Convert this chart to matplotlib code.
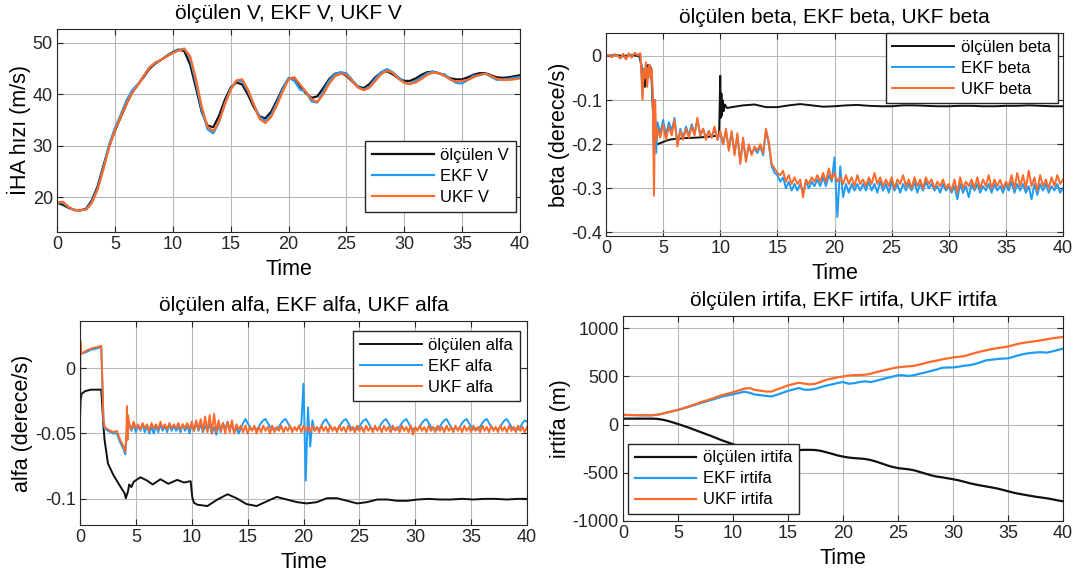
import numpy as np
import matplotlib
matplotlib.use("Agg")
import matplotlib.pyplot as plt

plt.rcParams['font.family'] = ['Liberation Sans', 'DejaVu Sans']
plt.rcParams['axes.unicode_minus'] = False

# ---------------- V (hiz) ----------------
t_v = np.linspace(0, 40, 81)
v_olculen = [18.9, 18.5, 17.9, 17.5, 17.4, 17.7, 19.3, 22.0, 26.0, 29.9,
             32.9, 35.5, 38.1, 40.4, 41.9, 43.4, 45.0, 46.0, 46.7, 47.5,
             48.2, 48.7, 48.4, 45.8, 41.3, 36.6, 33.9, 33.6, 35.8, 38.9,
             41.3, 42.3, 41.9, 39.9, 37.5, 35.7, 35.3, 36.6, 38.8, 41.2,
             43.0, 43.2, 41.6, 40.2, 39.3, 39.6, 41.2, 42.9, 44.0, 44.2,
             43.6, 42.5, 41.5, 41.2, 42.0, 43.3, 44.2, 44.5, 43.9, 43.1,
             42.6, 42.6, 43.1, 43.8, 44.3, 44.4, 44.1, 43.6, 43.1, 42.9,
             42.9, 43.3, 43.8, 44.1, 44.1, 43.7, 43.3, 43.2, 43.3, 43.5,
             43.7]
v_ekf = [19.0, 18.9, 18.0, 17.5, 17.4, 17.6, 19.0, 21.6, 25.6, 30.2,
         33.4, 36.0, 38.8, 40.8, 42.0, 43.6, 45.3, 46.1, 46.7, 47.4,
         48.1, 48.6, 48.9, 47.0, 42.3, 37.0, 33.2, 32.4, 34.6, 38.2,
         41.0, 42.6, 42.5, 40.6, 38.0, 35.6, 34.8, 36.0, 38.3, 41.0,
         43.2, 42.6, 40.9, 40.5, 38.6, 38.4, 40.5, 42.6, 43.9, 44.3,
         44.1, 42.8, 41.4, 40.9, 41.5, 43.0, 44.3, 44.9, 44.3, 43.3,
         42.3, 42.0, 42.6, 43.3, 44.1, 44.4, 44.0, 43.9, 42.9, 42.2,
         42.1, 42.8, 43.6, 43.7, 44.0, 43.4, 42.8, 42.9, 43.0, 43.2,
         43.4]
v_ukf = [18.9, 19.1, 18.1, 17.4, 17.5, 17.5, 18.8, 21.4, 25.3, 29.6,
         33.0, 35.6, 38.2, 40.3, 41.8, 43.6, 45.2, 46.2, 46.7, 47.4,
         48.0, 48.5, 48.8, 47.4, 43.0, 37.6, 33.7, 32.8, 34.7, 38.0,
         40.9, 42.7, 42.9, 40.9, 38.0, 35.2, 34.4, 35.6, 37.9, 40.5,
         42.9, 43.3, 41.9, 40.5, 39.0, 38.5, 40.0, 42.0, 43.5, 44.0,
         43.8, 42.6, 41.3, 40.8, 41.3, 42.6, 43.9, 44.6, 44.2, 43.0,
         42.2, 42.0, 42.3, 43.0, 43.8, 44.2, 44.1, 43.6, 42.8, 42.5,
         42.6, 42.8, 43.3, 43.8, 44.0, 43.6, 43.0, 42.8, 42.8, 42.9,
         43.1]

# ---------------- beta ----------------
t_beta_olc = [0, 0.5, 1, 1.5, 2, 2.5, 2.9, 3.1, 3.2, 3.3,
              3.4, 3.5, 3.6, 3.7, 3.8, 3.9, 4.0, 4.1, 4.2, 4.3,
              4.5, 5, 5.5, 6, 7, 8, 9, 9.9,
              10.0, 10.05, 10.1, 10.15, 10.2, 10.3, 10.4, 10.6,
              11, 12, 13, 14, 15, 16, 17, 18, 19, 20,
              21, 22, 23, 24, 25, 26, 27, 28, 29, 30,
              31, 32, 33, 34, 35, 36, 37, 38, 39, 40]
beta_olculen = [0.0, 0.001, 0.002, -0.001, 0.002, 0.001, 0.0, -0.02, -0.06, -0.03,
                -0.07, -0.02, -0.05, -0.02, -0.03, -0.025, -0.06, -0.12, -0.18, -0.2,
                -0.2, -0.195, -0.19, -0.188, -0.186, -0.185, -0.183, -0.18,
                -0.045, -0.14, -0.085, -0.135, -0.10, -0.125, -0.11, -0.118,
                -0.116, -0.112, -0.11, -0.116, -0.116, -0.112, -0.109, -0.112, -0.115, -0.114,
                -0.112, -0.111, -0.113, -0.114, -0.114, -0.112, -0.112, -0.113, -0.114, -0.114,
                -0.113, -0.113, -0.114, -0.114, -0.113, -0.113, -0.112, -0.113, -0.114, -0.114]

t_beta_early = [0, 0.25, 0.5, 0.75, 1.0, 1.25, 1.5, 1.75, 2.0, 2.25,
                2.5, 2.75, 3.0, 3.1, 3.2, 3.3, 3.4, 3.5, 3.6, 3.7,
                3.8, 3.9, 4.0, 4.1, 4.15, 4.2, 4.25, 4.3, 4.4]
t_beta_f = np.concatenate([t_beta_early, np.linspace(4.5, 40, 143)])
beta_ukf = [0.0, 0.002, -0.003, 0.004, 0.001, -0.006, 0.005, -0.008, 0.006, -0.004,
            0.007, 0.002, 0.006, -0.04, -0.1, -0.03, -0.05, -0.015, -0.07, -0.03,
            -0.02, -0.05, -0.03, -0.1, -0.2, -0.317, -0.2, -0.1, -0.19,
            -0.165, -0.185, -0.155, -0.19, -0.16, -0.18, -0.145, -0.205,
            -0.17, -0.19, -0.165, -0.185, -0.16, -0.18, -0.14, -0.18,
            -0.165, -0.19, -0.17, -0.185, -0.16, -0.19, -0.17, -0.2,
            -0.165, -0.215, -0.17, -0.225, -0.175, -0.245, -0.185, -0.24,
            -0.2, -0.225, -0.205, -0.215, -0.2, -0.22, -0.165, -0.195,
            -0.245, -0.255, -0.265, -0.27, -0.26, -0.285, -0.27, -0.29,
            -0.275, -0.29, -0.28, -0.32, -0.28, -0.29, -0.275, -0.285,
            -0.27, -0.285, -0.265, -0.285, -0.255, -0.28, -0.265, -0.285,
            -0.275, -0.29, -0.27, -0.29, -0.275, -0.295, -0.27, -0.29,
            -0.28, -0.295, -0.275, -0.29, -0.265, -0.29, -0.275, -0.295,
            -0.28, -0.295, -0.275, -0.3, -0.28, -0.29, -0.27, -0.295,
            -0.28, -0.3, -0.275, -0.295, -0.28, -0.3, -0.275, -0.29,
            -0.28, -0.3, -0.285, -0.295, -0.28, -0.3, -0.29, -0.305,
            -0.28, -0.31, -0.275, -0.3, -0.285, -0.295, -0.28, -0.3,
            -0.275, -0.3, -0.28, -0.295, -0.27, -0.3, -0.28, -0.295,
            -0.28, -0.3, -0.285, -0.295, -0.27, -0.3, -0.265, -0.295,
            -0.27, -0.3, -0.26, -0.295, -0.275, -0.305, -0.27, -0.295,
            -0.28, -0.3, -0.275, -0.295, -0.27, -0.29, -0.28]
beta_ekf = [0.0, 0.002, -0.002, 0.003, 0.001, -0.005, 0.004, -0.007, 0.005, -0.003,
            0.006, 0.002, 0.005, -0.035, -0.09, -0.03, -0.05, -0.015, -0.065, -0.03,
            -0.02, -0.05, -0.03, -0.1, -0.18, -0.23, -0.1, -0.14, -0.22,
            -0.15, -0.175, -0.145, -0.18, -0.15, -0.17, -0.14, -0.2,
            -0.165, -0.185, -0.16, -0.18, -0.155, -0.175, -0.145, -0.18,
            -0.165, -0.185, -0.17, -0.185, -0.165, -0.19, -0.175, -0.2,
            -0.17, -0.21, -0.175, -0.22, -0.18, -0.24, -0.19, -0.235,
            -0.205, -0.22, -0.21, -0.22, -0.205, -0.225, -0.17, -0.2,
            -0.25, -0.265, -0.27, -0.285, -0.275, -0.3, -0.285, -0.305,
            -0.29, -0.305, -0.29, -0.31, -0.285, -0.3, -0.285, -0.295,
            -0.28, -0.295, -0.275, -0.295, -0.27, -0.285, -0.23, -0.365,
            -0.25, -0.32, -0.29, -0.31, -0.29, -0.305, -0.29, -0.305,
            -0.29, -0.305, -0.285, -0.305, -0.29, -0.31, -0.285, -0.305,
            -0.29, -0.31, -0.285, -0.305, -0.29, -0.31, -0.29, -0.305,
            -0.29, -0.305, -0.285, -0.31, -0.29, -0.305, -0.285, -0.3,
            -0.29, -0.305, -0.295, -0.31, -0.29, -0.305, -0.295, -0.31,
            -0.295, -0.325, -0.29, -0.31, -0.295, -0.32, -0.29, -0.305,
            -0.29, -0.31, -0.295, -0.305, -0.29, -0.31, -0.29, -0.305,
            -0.295, -0.31, -0.29, -0.305, -0.285, -0.31, -0.29, -0.305,
            -0.29, -0.31, -0.295, -0.325, -0.29, -0.315, -0.29, -0.305,
            -0.29, -0.31, -0.295, -0.305, -0.29, -0.31, -0.3]

# ---------------- alfa ----------------
t_alfa_olc = [0, 0.05, 0.15, 0.5, 1.0, 1.5, 1.9, 2.0, 2.1, 2.2,
              2.5, 3.0, 3.5, 4.0, 4.1, 4.3, 4.4, 4.6, 4.8, 5.4,
              6.0, 6.5, 7.2, 7.9, 8.7, 9.3, 9.9, 10.05, 10.2, 10.5,
              11.4, 12.3, 13.2, 14.0, 14.9, 15.8, 16.7, 17.6, 18.5, 19.4,
              20.3, 21.2, 22.1, 23.0, 23.9, 24.8, 25.7, 26.6, 27.5, 28.4,
              29.3, 30.2, 31.2, 32.2, 33.2, 34.2, 35.2, 36.2, 37.2, 38.2,
              39.2, 40]
alfa_olculen = [-0.040, -0.025, -0.0195, -0.0175, -0.0165, -0.0165, -0.0165, -0.03, -0.045, -0.055,
                -0.073, -0.082, -0.089, -0.096, -0.0995, -0.094, -0.089, -0.091, -0.087, -0.0835,
                -0.086, -0.089, -0.085, -0.0885, -0.0855, -0.0875, -0.0865, -0.099, -0.103, -0.1045,
                -0.1055, -0.1005, -0.0965, -0.0995, -0.104, -0.1055, -0.102, -0.0985, -0.1005, -0.1025,
                -0.1035, -0.1025, -0.0995, -0.0995, -0.1015, -0.1035, -0.1025, -0.1005, -0.1005, -0.1015,
                -0.1015, -0.1005, -0.1, -0.1005, -0.1005, -0.1, -0.1005, -0.1, -0.1, -0.1005,
                -0.1, -0.1]

t_alfa_early = [0, 0.03, 0.1, 0.5, 1.0, 1.5, 1.9, 2.0, 2.1, 2.2,
                2.5, 3.0, 3.3, 3.6, 3.9, 4.05, 4.15, 4.2, 4.25, 4.3]
t_alfa_f = np.concatenate([t_alfa_early, np.linspace(4.4, 40, 179)])
alfa_ukf = [-0.04, 0.021, 0.011, 0.013, 0.015, 0.016, 0.017, -0.01, -0.04, -0.045,
            -0.047, -0.049, -0.048, -0.055, -0.06, -0.064, -0.05, -0.029, -0.055, -0.036,
            -0.042, -0.047, -0.041, -0.046, -0.043, -0.047, -0.042, -0.046, -0.043, -0.048,
            -0.042, -0.046, -0.043, -0.047, -0.041, -0.046, -0.043, -0.047, -0.042, -0.046,
            -0.043, -0.046, -0.042, -0.047, -0.043, -0.046, -0.042, -0.047, -0.041, -0.048,
            -0.040, -0.047, -0.039, -0.048, -0.037, -0.049, -0.036, -0.050, -0.035, -0.049,
            -0.040, -0.048, -0.042, -0.050, -0.041, -0.049, -0.040, -0.050, -0.043, -0.047,
            -0.044, -0.049, -0.044, -0.050, -0.045, -0.048, -0.044, -0.050, -0.045, -0.049,
            -0.044, -0.048, -0.045, -0.050, -0.044, -0.049, -0.045, -0.048, -0.044, -0.049,
            -0.045, -0.048, -0.044, -0.049, -0.045, -0.048, -0.044, -0.049, -0.044, -0.048,
            -0.045, -0.049, -0.044, -0.048, -0.045, -0.049, -0.044, -0.048, -0.045, -0.049,
            -0.044, -0.048, -0.045, -0.049, -0.044, -0.048, -0.045, -0.049, -0.044, -0.048,
            -0.045, -0.049, -0.044, -0.048, -0.045, -0.049, -0.044, -0.048, -0.045, -0.049,
            -0.044, -0.048, -0.045, -0.049, -0.044, -0.048, -0.045, -0.049, -0.044, -0.048,
            -0.045, -0.049, -0.044, -0.048, -0.045, -0.049, -0.044, -0.051, -0.045, -0.048,
            -0.044, -0.048, -0.045, -0.049, -0.044, -0.048, -0.045, -0.049, -0.044, -0.048,
            -0.045, -0.049, -0.044, -0.048, -0.045, -0.049, -0.044, -0.048, -0.045, -0.049,
            -0.044, -0.048, -0.045, -0.049, -0.044, -0.048, -0.045, -0.049, -0.044, -0.048,
            -0.045, -0.049, -0.044, -0.048, -0.045, -0.049, -0.044, -0.048, -0.045, -0.049,
            -0.044, -0.048, -0.045, -0.049, -0.044, -0.048, -0.045, -0.049, -0.045]
alfa_ekf = [-0.04, 0.015, 0.011, 0.012, 0.014, 0.015, 0.016, -0.01, -0.04, -0.046,
            -0.048, -0.05, -0.05, -0.057, -0.062, -0.066, -0.055, -0.045, -0.052, -0.045,
            -0.044, -0.048, -0.043, -0.049, -0.044, -0.048, -0.043, -0.049, -0.044, -0.050,
            -0.045, -0.050, -0.044, -0.049, -0.043, -0.048, -0.044, -0.049, -0.043, -0.048,
            -0.044, -0.048, -0.045, -0.049, -0.043, -0.048, -0.044, -0.050, -0.043, -0.048,
            -0.042, -0.048, -0.043, -0.049, -0.044, -0.048, -0.043, -0.050, -0.045, -0.051,
            -0.044, -0.049, -0.042, -0.047, -0.041, -0.046, -0.044, -0.049, -0.046, -0.050,
            -0.046, -0.042, -0.039, -0.042, -0.045, -0.047, -0.046, -0.047, -0.045, -0.042,
            -0.040, -0.039, -0.042, -0.045, -0.047, -0.046, -0.047, -0.045, -0.042, -0.040,
            -0.039, -0.042, -0.045, -0.047, -0.046, -0.047, -0.045, -0.043, -0.012, -0.086,
            -0.030, -0.060, -0.040, -0.048, -0.046, -0.047, -0.044, -0.041, -0.039, -0.042,
            -0.045, -0.047, -0.046, -0.047, -0.045, -0.042, -0.040, -0.039, -0.042, -0.045,
            -0.047, -0.046, -0.047, -0.045, -0.042, -0.040, -0.039, -0.042, -0.045, -0.047,
            -0.046, -0.047, -0.045, -0.042, -0.040, -0.039, -0.042, -0.045, -0.047, -0.046,
            -0.047, -0.045, -0.042, -0.040, -0.039, -0.042, -0.045, -0.047, -0.046, -0.047,
            -0.045, -0.042, -0.040, -0.039, -0.042, -0.045, -0.047, -0.046, -0.047, -0.045,
            -0.042, -0.040, -0.039, -0.042, -0.045, -0.047, -0.046, -0.047, -0.045, -0.042,
            -0.040, -0.039, -0.042, -0.045, -0.047, -0.046, -0.047, -0.045, -0.042, -0.040,
            -0.039, -0.042, -0.045, -0.047, -0.046, -0.047, -0.045, -0.042, -0.040, -0.039,
            -0.042, -0.045, -0.047, -0.046, -0.047, -0.045, -0.042, -0.040, -0.041]

# ---------------- irtifa ----------------
t_irt = np.linspace(0, 40, 81)
irt_olculen = [61, 61, 61, 61, 61, 61, 60, 52, 40, 23,
               5, -14, -34, -55, -77, -98, -119, -142, -165, -185,
               -205, -225, -242, -255, -263, -268, -270, -271, -272, -271,
               -270, -268, -266, -264, -264, -266, -275, -290, -305, -322,
               -334, -344, -350, -354, -359, -370, -386, -405, -425, -442,
               -454, -461, -467, -478, -495, -512, -529, -542, -550, -560,
               -570, -581, -596, -611, -624, -635, -645, -655, -666, -680,
               -695, -710, -722, -732, -742, -752, -760, -768, -778, -790,
               -800]
irt_ekf = [100, 99, 98, 97, 96, 96, 100, 110, 125, 138,
           152, 168, 185, 203, 222, 238, 255, 272, 290, 303,
           315, 328, 342, 330, 312, 305, 298, 292, 310, 330,
           350, 365, 380, 362, 362, 372, 390, 405, 418, 432,
           442, 425, 430, 442, 450, 442, 455, 470, 485, 498,
           513, 512, 505, 515, 530, 542, 558, 572, 590, 594,
           594, 602, 612, 618, 630, 648, 668, 675, 682, 686,
           689, 705, 722, 735, 744, 750, 753, 748, 760, 775,
           790]
irt_ukf = [100, 99, 98, 97, 96, 96, 100, 110, 125, 138,
           153, 170, 188, 208, 230, 248, 266, 285, 305, 320,
           336, 355, 372, 380, 360, 352, 343, 343, 365, 385,
           407, 422, 435, 425, 418, 425, 445, 465, 478, 492,
           500, 510, 514, 515, 518, 528, 545, 558, 572, 585,
           596, 602, 606, 612, 625, 640, 655, 665, 678, 688,
           698, 705, 712, 728, 745, 760, 772, 785, 795, 803,
           812, 828, 842, 852, 860, 868, 877, 887, 897, 905,
           912]

C_OLC = '#111111'
C_EKF = '#1e9cf5'
C_UKF = '#ff6a2a'
W, H = 1081, 579


def make_axes(l, r, t, b):
    return fig.add_axes([l / W, 1 - b / H, (r - l) / W, (b - t) / H])


def style(ax, title, ylabel, yticks, ylim, leg_loc, leg_anchor, names):
    ax.set_xlim(0, 40)
    ax.set_ylim(*ylim)
    ax.set_xticks(range(0, 41, 5))
    ax.set_yticks(yticks)
    ax.grid(True, color='#b8b8b8', linewidth=0.8)
    ax.set_axisbelow(True)
    ax.tick_params(direction='in', top=True, right=True, length=4,
                   labelsize=13, colors='#262626', pad=3)
    for s in ax.spines.values():
        s.set_color('#262626')
        s.set_linewidth(0.8)
    ax.set_title(title, fontsize=15, pad=7)
    ax.set_xlabel('Time', fontsize=15.5, labelpad=4)
    ax.set_ylabel(ylabel, fontsize=15.5, labelpad=1)
    ax.legend(names, loc=leg_loc, bbox_to_anchor=leg_anchor, borderaxespad=0,
              fancybox=False, framealpha=1, edgecolor='#262626', fontsize=12,
              handlelength=3.7, handletextpad=0.4, labelspacing=0.36, borderpad=0.4)


fig = plt.figure(figsize=(10.81, 5.79), dpi=100)

ax1 = make_axes(57, 520, 29, 232)
ax1.plot(t_v, v_olculen, color=C_OLC, lw=1.6)
ax1.plot(t_v, v_ekf, color=C_EKF, lw=1.6)
ax1.plot(t_v, v_ukf, color=C_UKF, lw=1.6)
style(ax1, 'ölçülen V, EKF V, UKF V', 'İHA hızı (m/s)', [20, 30, 40, 50], (13.2, 52.7),
      'lower right', (0.991, 0.10), ['ölçülen V', 'EKF V', 'UKF V'])

ax2 = make_axes(606, 1063, 33, 236)
ax2.plot(t_beta_olc, beta_olculen, color=C_OLC, lw=1.4)
ax2.plot(t_beta_f, beta_ekf, color=C_EKF, lw=1.4)
ax2.plot(t_beta_f, beta_ukf, color=C_UKF, lw=1.4)
style(ax2, 'ölçülen beta, EKF beta, UKF beta', 'beta (derece/s)', [-0.4, -0.3, -0.2, -0.1, 0],
      (-0.408, 0.052), 'upper right', (0.988, 1.0), ['ölçülen beta', 'EKF beta', 'UKF beta'])
ax2.set_yticklabels(['-0.4', '-0.3', '-0.2', '-0.1', '0'])

ax3 = make_axes(80, 527, 321, 525)
ax3.plot(t_alfa_olc, alfa_olculen, color=C_OLC, lw=1.4)
ax3.plot(t_alfa_f, alfa_ekf, color=C_EKF, lw=1.4)
ax3.plot(t_alfa_f, alfa_ukf, color=C_UKF, lw=1.4)
style(ax3, 'ölçülen alfa, EKF alfa, UKF alfa', 'alfa (derece/s)', [-0.1, -0.05, 0],
      (-0.12, 0.036), 'upper right', (0.984, 0.951), ['ölçülen alfa', 'EKF alfa', 'UKF alfa'])
ax3.set_yticklabels(['-0.1', '-0.05', '0'])

ax4 = make_axes(623, 1063, 316, 521)
ax4.plot(t_irt, irt_olculen, color=C_OLC, lw=1.6)
ax4.plot(t_irt, irt_ekf, color=C_EKF, lw=1.6)
ax4.plot(t_irt, irt_ukf, color=C_UKF, lw=1.6)
style(ax4, 'ölçülen irtifa, EKF irtifa, UKF irtifa', 'irtifa (m)', [-1000, -500, 0, 500, 1000],
      (-1005, 1130), 'lower left', (0.011, 0.034), ['ölçülen irtifa', 'EKF irtifa', 'UKF irtifa'])

fig.savefig('out.png', dpi=100)
